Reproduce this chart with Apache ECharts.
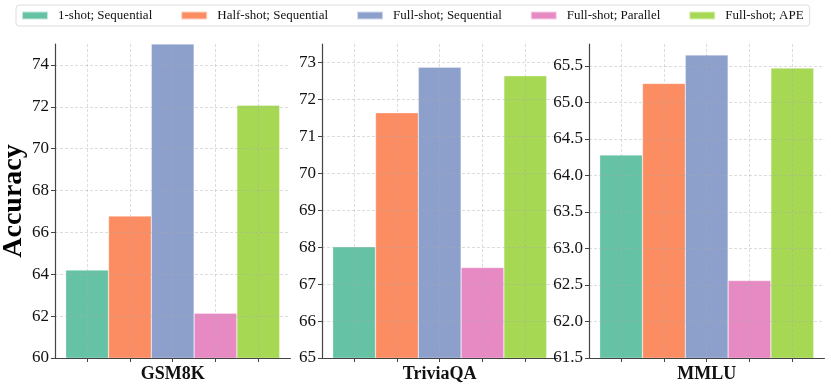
<!DOCTYPE html>
<html>
<head>
<meta charset="utf-8">
<script src="https://cdn.jsdelivr.net/npm/echarts@6/dist/echarts.min.js"></script>
<style>
  html, body { margin: 0; padding: 0; background: #fff; }
  #chart { width: 831px; height: 390px; }
</style>
</head>
<body>
<div id="chart"></div>
<script>
// data
const benchmarks = ['GSM8K', 'TriviaQA', 'MMLU'];
const methods = ['1-shot; Sequential', 'Half-shot; Sequential', 'Full-shot; Sequential', 'Full-shot; Parallel', 'Full-shot; APE'];
const gsm8kAcc = [64.2, 66.78, 75.0, 62.14, 72.07];
const triviaqaAcc = [68.01, 71.64, 72.87, 67.45, 72.64];
const mmluAcc = [64.28, 65.26, 65.65, 62.56, 65.47];
const gsm8kTicks = [60, 62, 64, 66, 68, 70, 72, 74];
const triviaqaTicks = [65, 66, 67, 68, 69, 70, 71, 72, 73];
const mmluTicks = [61.5, 62.0, 62.5, 63.0, 63.5, 64.0, 64.5, 65.0, 65.5];

const colors = ['#66c2a5', '#fc8d62', '#8da0cb', '#e78ac3', '#a6d854'];
const FONT = 'Liberation Serif';

const panels = [
  { values: gsm8kAcc, ticks: gsm8kTicks, min: 60, max: 75, step: 2, dec: 0, left: 55 },
  { values: triviaqaAcc, ticks: triviaqaTicks, min: 65, max: 73.5, step: 1, dec: 0, left: 322 },
  { values: mmluAcc, ticks: mmluTicks, min: 61.5, max: 65.8, step: 0.5, dec: 1, left: 589 }
];
const plotW = 235.4;
const barW = plotW / 5.5;

let grids = [], xAxes = [], yAxes = [], series = [];
panels.forEach(function (p, k) {
  grids.push({ left: p.left, top: 44, width: plotW, height: 314, outerBoundsMode: 'none' });
  xAxes.push({
    gridIndex: k, type: 'value', min: -0.75, max: 4.75, z: 5,
    axisLine: { show: true, onZero: false, lineStyle: { color: '#444', width: 1.2 } },
    axisTick: { show: true, length: 4, customValues: [0, 1, 2, 3, 4], lineStyle: { color: '#444' } },
    axisLabel: {
      customValues: [2], margin: 7,
      formatter: function () { return benchmarks[k]; },
      fontFamily: FONT, fontSize: 18, fontWeight: 'bold', color: '#111'
    },
    splitLine: { show: true, lineStyle: { type: [3, 2], color: 'rgba(170,170,170,0.5)', width: 0.8 } }
  });
  yAxes.push({
    gridIndex: k, type: 'value', min: p.min, max: p.max, interval: p.step, z: 5,
    name: k === 0 ? 'Accuracy' : '',
    nameLocation: 'middle', nameGap: 22, nameRotate: 90,
    nameTextStyle: { fontFamily: FONT, fontSize: 28, fontWeight: 'bold', color: '#000' },
    axisLine: { show: true, onZero: false, lineStyle: { color: '#444', width: 1.2 } },
    axisTick: { show: true, length: 4, customValues: p.ticks, lineStyle: { color: '#444' } },
    axisLabel: {
      customValues: p.ticks, margin: 6,
      formatter: function (v) { return Number(v).toFixed(p.dec); },
      fontFamily: FONT, fontSize: 17, color: '#111'
    },
    splitLine: { show: true, lineStyle: { type: [3, 2], color: 'rgba(170,170,170,0.5)', width: 0.8 } }
  });
  methods.forEach(function (m, i) {
    series.push({
      name: m, type: 'bar', xAxisIndex: k, yAxisIndex: k,
      barWidth: barW, barGap: '-100%',
      itemStyle: { color: colors[i], borderColor: 'rgba(255,255,255,0.6)', borderWidth: 0.5 },
      data: [[i, p.values[i]]]
    });
  });
});

const chart = echarts.init(document.getElementById('chart'));
chart.setOption({
  animation: false,
  legend: {
    data: methods, left: 16, top: 5,
    icon: 'rect', itemWidth: 26, itemHeight: 8, itemGap: 28,
    padding: [4, 6, 4, 5],
    borderColor: '#ddd', borderWidth: 1, borderRadius: 3,
    textStyle: { fontFamily: FONT, fontSize: 13, color: '#111', padding: [0, 0, 0, 5] }
  },
  grid: grids,
  xAxis: xAxes,
  yAxis: yAxes,
  series: series
});
</script>
</body>
</html>
